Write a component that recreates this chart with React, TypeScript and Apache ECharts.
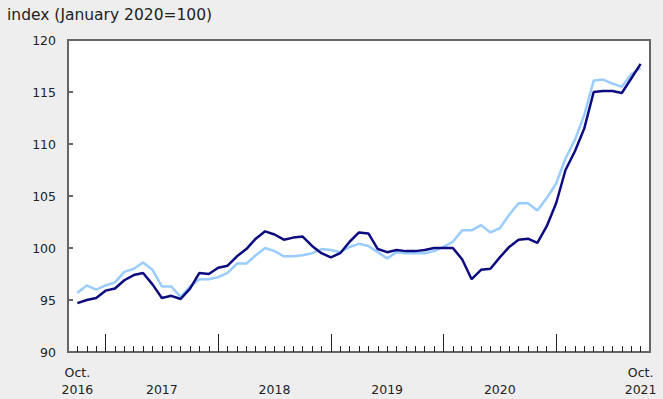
import React, { useEffect, useRef } from "react";
import * as echarts from "echarts";

const months: string[] = [
  "Oct 2016","Nov 2016","Dec 2016",
  "Jan 2017","Feb 2017","Mar 2017","Apr 2017","May 2017","Jun 2017","Jul 2017","Aug 2017","Sep 2017","Oct 2017","Nov 2017","Dec 2017",
  "Jan 2018","Feb 2018","Mar 2018","Apr 2018","May 2018","Jun 2018","Jul 2018","Aug 2018","Sep 2018","Oct 2018","Nov 2018","Dec 2018",
  "Jan 2019","Feb 2019","Mar 2019","Apr 2019","May 2019","Jun 2019","Jul 2019","Aug 2019","Sep 2019","Oct 2019","Nov 2019","Dec 2019",
  "Jan 2020","Feb 2020","Mar 2020","Apr 2020","May 2020","Jun 2020","Jul 2020","Aug 2020","Sep 2020","Oct 2020","Nov 2020","Dec 2020",
  "Jan 2021","Feb 2021","Mar 2021","Apr 2021","May 2021","Jun 2021","Jul 2021","Aug 2021","Sep 2021","Oct 2021",
];

const darkSeries: number[] = [
  94.7, 95.0, 95.2,
  95.9, 96.1, 96.9, 97.4, 97.6, 96.5, 95.2, 95.4, 95.1, 96.1, 97.6, 97.5,
  98.1, 98.3, 99.2, 99.9, 100.9, 101.6, 101.3, 100.8, 101.0, 101.1, 100.2, 99.5,
  99.1, 99.5, 100.6, 101.5, 101.4, 99.9, 99.6, 99.8, 99.7, 99.7, 99.8, 100.0,
  100.0, 100.0, 98.9, 97.0, 97.9, 98.0, 99.1, 100.1, 100.8, 100.9, 100.5, 102.1,
  104.3, 107.5, 109.3, 111.5, 115.0, 115.1, 115.1, 114.9, 116.3, 117.7,
];

const lightSeries: number[] = [
  95.7, 96.4, 96.0,
  96.4, 96.7, 97.7, 98.0, 98.6, 97.9, 96.3, 96.3, 95.3, 96.3, 97.0, 97.0,
  97.2, 97.6, 98.5, 98.5, 99.3, 100.0, 99.7, 99.2, 99.2, 99.3, 99.5, 99.9,
  99.8, 99.6, 100.1, 100.4, 100.2, 99.6, 99.0, 99.6, 99.5, 99.5, 99.5, 99.7,
  100.1, 100.6, 101.7, 101.7, 102.2, 101.5, 101.9, 103.2, 104.3, 104.3, 103.6, 104.8,
  106.2, 108.6, 110.4, 112.8, 116.1, 116.2, 115.8, 115.5, 116.7, 117.3,
];

const yTicks: number[] = [90, 95, 100, 105, 110, 115, 120];

// label positions (month index) and texts
const xLabelIdx: number[] = [0, 9, 21, 33, 45, 60];
const xLabelText: string[] = ["Oct.\n2016", "\n2017", "\n2018", "\n2019", "\n2020", "Oct.\n2021"];
const januaryIdx: number[] = [3, 15, 27, 39, 51];

const FONT = "'DejaVu Sans', Verdana, sans-serif";

export default function App() {
  const ref = useRef<HTMLDivElement>(null);
  useEffect(() => {
    if (!ref.current) return;
    const chart = echarts.init(ref.current, undefined, { renderer: "svg" });
    const monthIdx = months.map((_, i) => i);
    chart.setOption({
      animation: false,
      backgroundColor: "#eeeeee",
      title: {
        text: "index (January 2020=100)",
        left: 2,
        top: 2,
        textStyle: { fontFamily: FONT, fontSize: 15.5, fontWeight: "normal", color: "#222" },
      },
      grid: {
        left: 68,
        right: 13,
        top: 40,
        bottom: 47,
        show: true,
        backgroundColor: "#ffffff",
        borderColor: "#666666",
        borderWidth: 2,
      },
      xAxis: [
        {
          type: "value",
          min: -1,
          max: 61,
          interval: 1,
          splitLine: { show: false },
          axisLine: { show: true, onZero: false, lineStyle: { color: "#666666", width: 2 } },
          axisTick: {
            show: true,
            inside: true,
            length: 6,
            customValues: monthIdx,
            lineStyle: { color: "#222", width: 1 },
          },
          axisLabel: {
            show: true,
            customValues: xLabelIdx,
            formatter: (v: number) => xLabelText[xLabelIdx.indexOf(Math.round(v))] ?? "",
            fontFamily: FONT,
            fontSize: 12.5,
            color: "#222",
            lineHeight: 17,
            margin: 12,
          },
        },
        {
          type: "value",
          position: "bottom",
          min: -1,
          max: 61,
          splitLine: { show: false },
          axisLine: { show: false, onZero: false },
          axisTick: {
            show: true,
            inside: true,
            length: 18,
            customValues: januaryIdx,
            lineStyle: { color: "#222", width: 1 },
          },
          axisLabel: { show: false },
        },
      ],
      yAxis: {
        type: "value",
        min: yTicks[0],
        max: yTicks[yTicks.length - 1],
        interval: 5,
        splitLine: { show: false },
        axisLine: { show: true, onZero: false, lineStyle: { color: "#666666", width: 2 } },
        axisTick: { show: true, inside: true, length: 5, lineStyle: { color: "#666666", width: 2 } },
        axisLabel: { fontFamily: FONT, fontSize: 12.5, color: "#222", margin: 12 },
      },
      series: [
        {
          name: "light",
          type: "line",
          xAxisIndex: 0,
          showSymbol: false,
          data: lightSeries.map((v, i) => [i, v]),
          lineStyle: { color: "#99ccff", width: 2.5 },
          itemStyle: { color: "#99ccff" },
        },
        {
          name: "dark",
          type: "line",
          xAxisIndex: 0,
          showSymbol: false,
          data: darkSeries.map((v, i) => [i, v]),
          lineStyle: { color: "#0c0c80", width: 2.5 },
          itemStyle: { color: "#0c0c80" },
        },
      ],
    });
    return () => chart.dispose();
  }, []);
  return (
    <div
      ref={ref}
      style={{ position: "fixed", left: 0, top: 0, width: 663, height: 399 }}
    />
  );
}
